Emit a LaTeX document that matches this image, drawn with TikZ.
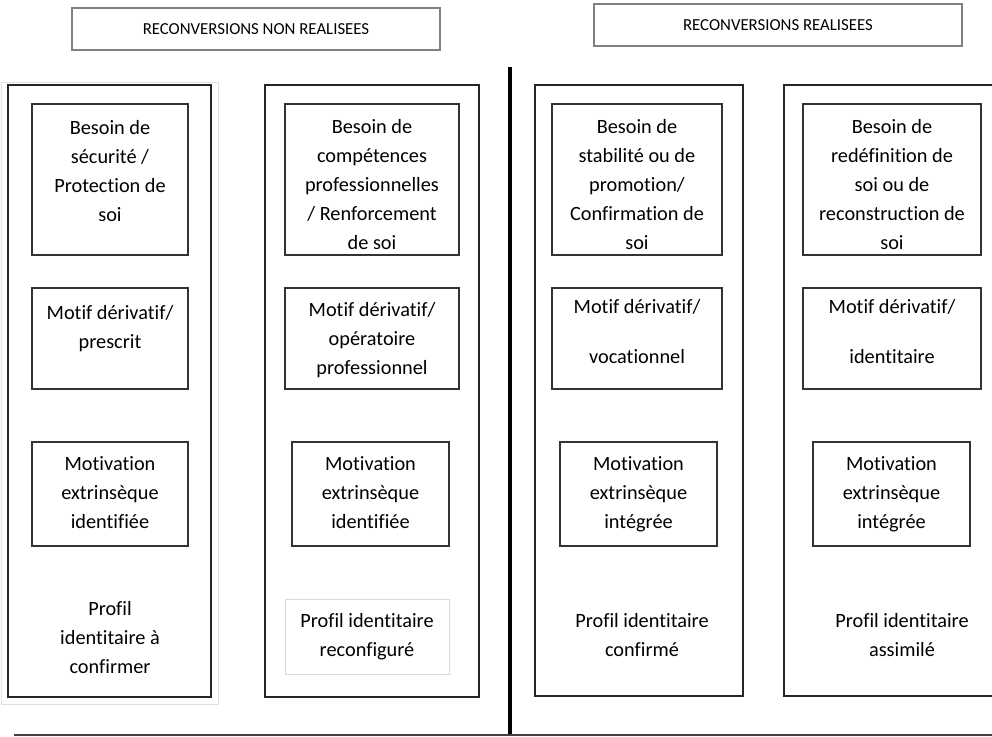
\documentclass[tikz,border=0pt]{standalone}
\usepackage{fontspec}
\setmainfont{Carlito}[Ligatures=NoCommon]
\begin{document}
\begin{tikzpicture}[x=1pt,y=-1pt,
  outer/.style={draw=black!85,line width=1.3pt,inner sep=0pt},
  inbox/.style={draw=black!80,line width=1.1pt,inner sep=0pt},
  hdr/.style={draw=black!50,line width=2.6pt,inner sep=0pt,font=\fontsize{16.8}{19}\selectfont},
  txt/.style={align=center,inner sep=0pt,font=\fontsize{20.3}{29}\selectfont}]
\useasboundingbox (0,0) rectangle (992,736);
% headers
\node[hdr,minimum width=368pt,minimum height=42pt] (h1) at (256,29) {RECONVERSIONS NON REALISEES};
\node[hdr,minimum width=368pt,minimum height=42pt] (h2) at (778,25) {RECONVERSIONS REALISEES};
% separators
\coordinate (vt) at (510,67);
\coordinate (vb) at (510,736);
\draw[line width=4pt] (vt) -- (vb);
\coordinate (bl) at (14,735);
\coordinate (br) at (992,735);
\draw[draw=black!75,line width=1.4pt] (bl) -- (br);
% column 1
\node[draw=black!12,line width=0.8pt,minimum width=217pt,minimum height=622pt,inner sep=0pt] (c1s) at (109.5,393) {};
\node[outer,minimum width=203pt,minimum height=612pt] (c1) at (109.5,391) {};
\node[inbox,minimum width=156pt,minimum height=151pt] (c1a) at (110,179.5) {};
\node[inbox,minimum width=156pt,minimum height=101pt] (c1b) at (110,338.5) {};
\node[inbox,minimum width=156pt,minimum height=104pt] (c1c) at (110,494) {};
\node[txt] (t1a) at (110,171.5) {Besoin de\\sécurité /\\Protection de\\soi};
\node[txt] (t1b) at (110,329) {Motif dérivatif/\\prescrit};
\node[txt] (t1c) at (110,493) {Motivation\\extrinsèque\\identifiée};
\node[txt] (t1d) at (110,638) {Profil\\identitaire à\\confirmer};
% column 2
\node[outer,minimum width=214pt,minimum height=612pt] (c2) at (372,391) {};
\node[inbox,minimum width=174pt,minimum height=151pt] (c2a) at (372,179.5) {};
\node[inbox,minimum width=174pt,minimum height=101pt] (c2b) at (372,338.5) {};
\node[inbox,minimum width=157pt,minimum height=104pt] (c2c) at (370.5,494) {};
\node[draw=black!15,line width=0.8pt,minimum width=164pt,minimum height=75pt,inner sep=0pt] (c2d) at (367,636.5) {};
\node[txt] (t2a) at (372,185) {Besoin de\\compétences\\professionnelles\\/ Renforcement\\de soi};
\node[txt] (t2b) at (372,340) {Motif dérivatif/\\opératoire\\professionnel};
\node[txt] (t2c) at (370.5,493) {Motivation\\extrinsèque\\identifiée};
\node[txt] (t2d) at (367,637) {Profil identitaire\\reconfiguré};
% column 3
\node[outer,minimum width=208pt,minimum height=611pt] (c3) at (639,390.5) {};
\node[inbox,minimum width=170pt,minimum height=151pt] (c3a) at (637,179.5) {};
\node[inbox,minimum width=170pt,minimum height=101pt] (c3b) at (637,338.5) {};
\node[inbox,minimum width=157pt,minimum height=104pt] (c3c) at (638.5,494) {};
\node[txt] (t3a) at (637,185) {Besoin de\\stabilité ou de\\promotion/\\Confirmation de\\soi};
\node[txt] (t3b) at (637,332) {Motif dérivatif/\\[21pt]vocationnel};
\node[txt] (t3c) at (638.5,494) {Motivation\\extrinsèque\\intégrée};
\node[txt] (t3d) at (642,635) {Profil identitaire\\confirmé};
% column 4
\node[outer,minimum width=214pt,minimum height=611pt] (c4) at (891,390.5) {};
\node[inbox,minimum width=178pt,minimum height=151pt] (c4a) at (892,179.5) {};
\node[inbox,minimum width=178pt,minimum height=101pt] (c4b) at (892,338.5) {};
\node[inbox,minimum width=157pt,minimum height=104pt] (c4c) at (891.5,494) {};
\node[txt] (t4a) at (892,185) {Besoin de\\redéfinition de\\soi ou de\\reconstruction de\\soi};
\node[txt] (t4b) at (892,332) {Motif dérivatif/\\[21pt]identitaire};
\node[txt] (t4c) at (891.5,494) {Motivation\\extrinsèque\\intégrée};
\node[txt] (t4d) at (902,635) {Profil identitaire\\assimilé};
\end{tikzpicture}
\end{document}
